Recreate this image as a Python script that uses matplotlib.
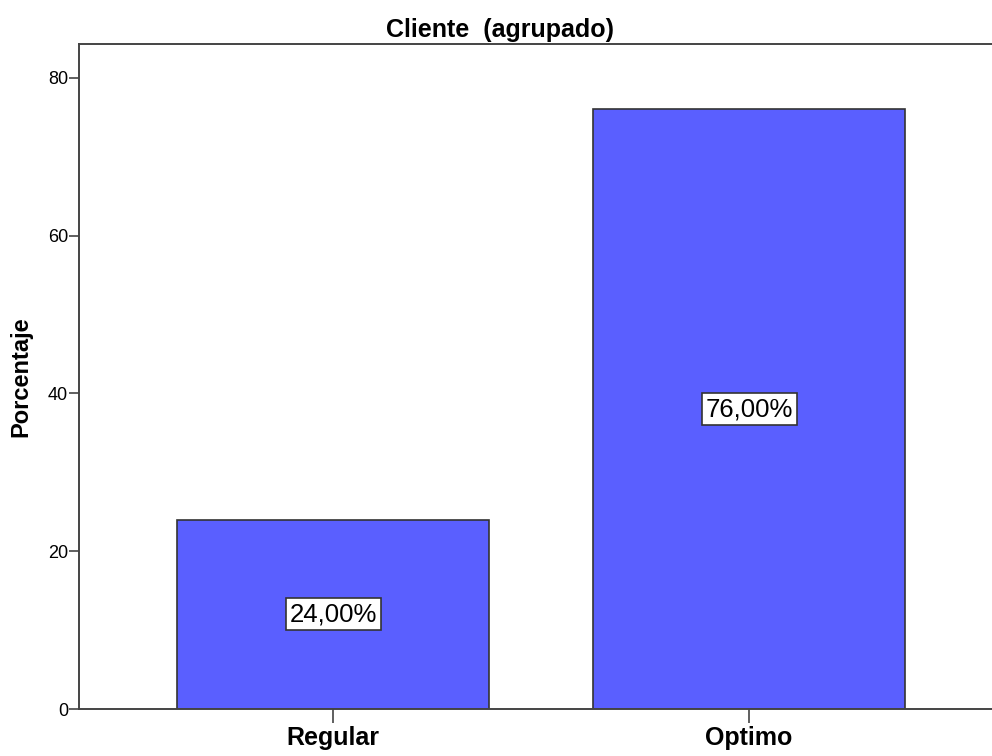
import matplotlib
matplotlib.use('Agg')
import matplotlib.pyplot as plt

categorias = ['Regular', 'Optimo']
porcentajes = [24.0, 76.0]
etiquetas = ['24,00%', '76,00%']

plt.rcParams['font.family'] = ['Liberation Sans', 'DejaVu Sans']

fig = plt.figure(figsize=(9.92, 7.56), dpi=100)
ax = fig.add_axes([79 / 992, 1 - 709 / 756, 1 - 79 / 992, (709 - 44) / 756])

x = list(range(len(categorias)))
ax.bar(x, porcentajes, width=0.75, color='#5a5fff', edgecolor='#333333', linewidth=1.2)

# etiquetas de porcentaje en el centro de cada barra
for xi, v, t in zip(x, porcentajes, etiquetas):
    ax.text(xi, v / 2, t, ha='center', va='center', fontsize=18.5,
            bbox=dict(boxstyle='square,pad=0.15', facecolor='white', edgecolor='#333333', linewidth=1.2))

ax.set_xlim(-0.611, 1.584)
ax.set_ylim(0, 84.3)
ax.set_yticks([0, 20, 40, 60, 80])
ax.set_xticks(x)
ax.set_xticklabels(categorias, fontsize=18, fontweight='bold')
ax.tick_params(axis='y', labelsize=13, length=7, width=1.2, color='#444444', pad=1)
ax.tick_params(axis='x', length=10, width=1.2, color='#444444', pad=2)

for s in ['left', 'top', 'bottom']:
    ax.spines[s].set_linewidth(1.4)
    ax.spines[s].set_color('#444444')
ax.spines['right'].set_visible(False)

ax.set_ylabel('Porcentaje', fontsize=17, fontweight='bold', labelpad=11)
# el titulo va centrado en la figura, no en los ejes
fig.text(500 / 992, 1 - 37 / 756, 'Cliente  (agrupado)', ha='center', va='baseline',
         fontsize=18, fontweight='bold')

fig.savefig('out.png', dpi=100)
